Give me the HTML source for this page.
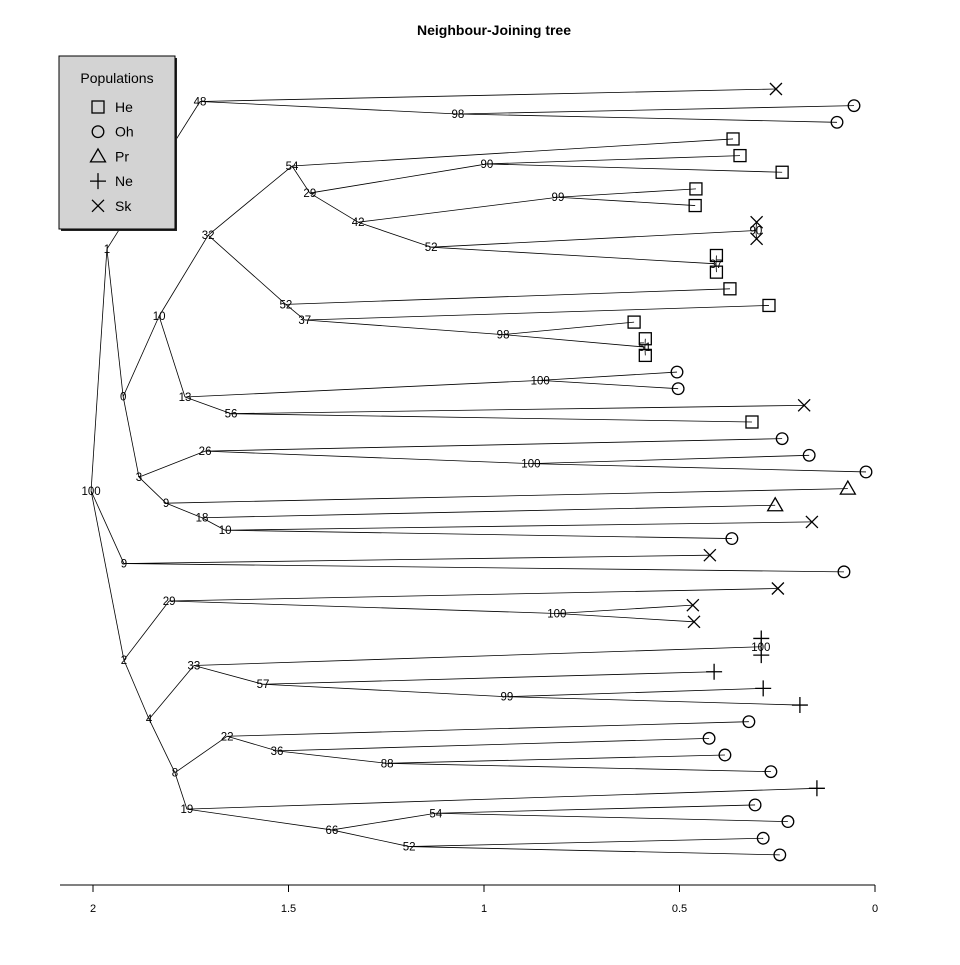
<!DOCTYPE html>
<html><head><meta charset="utf-8"><style>
html,body{margin:0;padding:0;background:#fff}
svg text{font-family:"Liberation Sans",Arial,sans-serif}
</style></head><body>
<svg id="chart" width="960" height="960" viewBox="0 0 960 960" xmlns="http://www.w3.org/2000/svg">
<rect width="960" height="960" fill="#fff"/>
<text x="494" y="35" text-anchor="middle" font-size="14" font-weight="bold">Neighbour-Joining tree</text>
<g id="tree"></g>
<g id="axis"></g>
<g id="legend">
  <rect x="61" y="58" width="116" height="173" fill="#222"/>
  <rect x="59" y="56" width="116" height="173" fill="#d3d3d3" stroke="#000" stroke-width="1"/>
  <text x="117" y="83" text-anchor="middle" font-size="14">Populations</text>
</g>
</svg>
<script>
// Tree in Newick form: labels = bootstrap values, numbers after ':' = position on distance axis
const treeNewick = "(((Sk:0.233,(Oh:0.031,Oh:0.075)98:1.056)48:1.723,((((He:0.344,((He:0.326,He:0.217)90:0.981,((He:0.440,He:0.442)99:0.797,((Sk:0.283,Sk:0.283)90:0.285,(He:0.387,He:0.387)37:0.388)52:1.125)42:1.314)29:1.439)54:1.485,(He:0.352,(He:0.251,(He:0.600,(He:0.571,He:0.571)51:0.572)98:0.939)37:1.452)52:1.501)32:1.702,((Oh:0.489,Oh:0.486)100:0.843,(Sk:0.160,He:0.295)56:1.643)13:1.762)10:1.829,((Oh:0.217,(Oh:0.147,Oh:0.000)100:0.867)26:1.710,(Pr:0.047,(Pr:0.235,(Sk:0.140,Oh:0.347)10:1.658)18:1.718)9:1.811)3:1.881)0:1.922)1:1.964,(Sk:0.404,Oh:0.057)9:1.920,((Sk:0.228,(Sk:0.448,Sk:0.445)100:0.800)29:1.803,(((Ne:0.271,Ne:0.271)100:0.272,(Ne:0.393,(Ne:0.266,Ne:0.171)99:0.929)57:1.560)33:1.739,((Oh:0.303,(Oh:0.406,(Oh:0.365,Oh:0.246)88:1.239)36:1.524)22:1.653,(Ne:0.127,((Oh:0.287,Oh:0.202)54:1.113,(Oh:0.266,Oh:0.223)52:1.182)66:1.382)19:1.757)8:1.788)4:1.855)2:1.920)100:2.005";
const tickValues = [2, 1.5, 1, 0.5, 0];
const tickLabels = ["2", "1.5", "1", "0.5", "0"];
const legendPops = ["He", "Oh", "Pr", "Ne", "Sk"];

const NS = "http://www.w3.org/2000/svg";
function xTree(v){ return 866 - v * 386.5; }
function xAxis(v){ return 875 - v * 391; }
function yTip(i){ return 89 + i * 16.65; }

function parse(s){
  let p = 0;
  function node(){
    const n = {children:[]};
    if (s[p] === '('){
      p++;
      n.children.push(node());
      while (s[p] === ','){ p++; n.children.push(node()); }
      p++;
    }
    let lab = '';
    while (p < s.length && !':,()'.includes(s[p])) lab += s[p++];
    n.label = lab;
    if (s[p] === ':'){ p++; let num=''; while (p < s.length && !',()'.includes(s[p])) num += s[p++]; n.value = parseFloat(num); }
    return n;
  }
  return node();
}
const root = parse(treeNewick);
let tipIdx = 0;
function layout(n){
  n.x = xTree(n.value);
  if (!n.children.length){ n.y = yTip(tipIdx++); return; }
  n.children.forEach(layout);
  n.y = n.children.reduce((a,c)=>a+c.y,0) / n.children.length;
}
layout(root);

const tree = document.getElementById('tree');
function mk(tag, attrs, parent){
  const e = document.createElementNS(NS, tag);
  for (const k in attrs) e.setAttribute(k, attrs[k]);
  (parent || tree).appendChild(e);
  return e;
}
function symbol(pop, x, y, parent, name){
  const g = mk('g', {fill:'none', stroke:'#000', 'stroke-width':1.3}, parent);
  
  
  if (pop === 'He') mk('rect', {x:x-6, y:y-6, width:12, height:12}, g);
  else if (pop === 'Oh') mk('circle', {cx:x, cy:y, r:5.8}, g);
  else if (pop === 'Pr') mk('path', {d:`M${x} ${y-7.5}L${x+7.5} ${y+5.5}L${x-7.5} ${y+5.5}Z`}, g);
  else if (pop === 'Ne') mk('path', {d:`M${x-8} ${y}H${x+8}M${x} ${y-8}V${y+8}`}, g);
  else mk('path', {d:`M${x-6} ${y-6}L${x+6} ${y+6}M${x+6} ${y-6}L${x-6} ${y+6}`}, g);
  return g;
}
const labels = [];
function draw(n){
  n.children.forEach(c => {
    const l = mk('line', {x1:n.x, y1:n.y, x2:c.x, y2:c.y, stroke:'#000', 'stroke-width':0.8});
    
    
    draw(c);
  });
  if (n.children.length) labels.push(n);
}
draw(root);
function tips(n){
  if (!n.children.length){ symbol(n.label, n.x, n.y, tree, 'tip-' + n.label.toLowerCase()); return; }
  n.children.forEach(tips);
}
tips(root);
labels.forEach(n => {
  const t = mk('text', {x:n.x, y:n.y+4, 'text-anchor':'middle', 'font-size':11.5});
  
  
  t.textContent = n.label;
});

const axis = document.getElementById('axis');
const al = mk('line', {x1:60, y1:885, x2:xAxis(0), y2:885, stroke:'#000', 'stroke-width':1}, axis);


tickValues.forEach((v, i) => {
  const x = xAxis(v);
  const tk = mk('line', {x1:x, y1:885, x2:x, y2:892, stroke:'#000', 'stroke-width':1}, axis);
  
  
  const t = mk('text', {x:x, y:912, 'text-anchor':'middle', 'font-size':11}, axis);
  
  
  t.textContent = tickLabels[i];
});

const legend = document.getElementById('legend');
document.getElementById('chart').appendChild(legend);
legendPops.forEach((p, i) => {
  const y = 107 + i * 24.7;
  symbol(p, 98, y, legend, 'legend-symbol-' + p.toLowerCase());
  const t = mk('text', {x:115, y:y+5, 'font-size':14}, legend);
  
  
  t.textContent = p;
});
</script>
</body></html>
